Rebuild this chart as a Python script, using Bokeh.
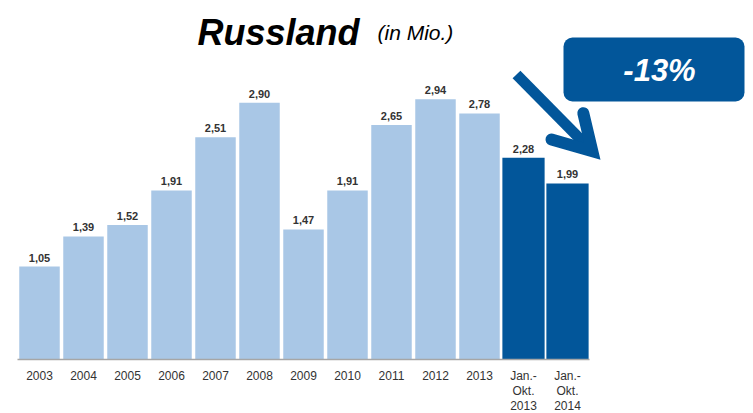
from bokeh.plotting import figure
from bokeh.models import (Range1d, FixedTicker, ColumnDataSource, LabelSet, Label,
                          BoxAnnotation)
from bokeh.core.properties import value
from bokeh.embed import file_html
from bokeh.resources import INLINE

# ---- data ----
categories = ["2003", "2004", "2005", "2006", "2007", "2008", "2009", "2010",
              "2011", "2012", "2013", "Jan.-\nOkt.\n2013", "Jan.-\nOkt.\n2014"]
values = [1.05, 1.39, 1.52, 1.91, 2.51, 2.90, 1.47, 1.91, 2.65, 2.94, 2.78, 2.28, 1.99]
partial_year = [False] * 11 + [True, True]
title_main = "Russland"
title_unit = "(in Mio.)"
change_text = "-13%"

LIGHT = "#a9c7e6"
DARK = "#02569a"
TEXT = "#333333"
FONT = "Liberation Sans"

# ---- scales (pixels per unit) ----
PX_X = 44.0        # pixels per category
PX_Y = 88.5        # pixels per million
FRAME_W, FRAME_H = 728, 351
LEFT, TOP = 17, 8


# helpers to place decorations given reference pixel positions
def px2x(px):
    return -0.5 + (px - LEFT) / PX_X


def px2y(py):
    return (TOP + FRAME_H - py) / PX_Y


idx = list(range(len(categories)))
src = ColumnDataSource(dict(
    x=idx,
    top=values,
    color=[DARK if p else LIGHT for p in partial_year],
    width=[0.96 if p else 0.92 for p in partial_year],
    label=[f"{v:.2f}".replace(".", ",") for v in values],
))

p = figure(frame_width=FRAME_W, frame_height=FRAME_H,
           x_range=Range1d(-0.5, -0.5 + FRAME_W / PX_X),
           y_range=Range1d(0, FRAME_H / PX_Y),
           y_axis_location=None, output_backend="svg", toolbar_location=None,
           min_border_left=LEFT, min_border_right=0, min_border_top=TOP,
           min_border_bottom=0, outline_line_color=None,
           background_fill_color="white", border_fill_color="white")
p.xgrid.visible = False
p.ygrid.visible = False

p.vbar(x="x", top="top", width="width", bottom=0, fill_color="color",
       line_color=None, source=src)

labels = LabelSet(x="x", y="top", text="label", source=src, y_offset=5,
                  text_align="center", text_baseline="alphabetic",
                  text_font=value(FONT), text_font_style="bold",
                  text_font_size="11px", text_color=TEXT)
p.add_layout(labels)

ax = p.xaxis[0]
ax.ticker = FixedTicker(ticks=idx)
ax.major_label_overrides = {i: c for i, c in zip(idx, categories)}
ax.bounds = (-0.5, len(categories) - 0.5)
ax.axis_line_color = "#a6a6a6"
ax.axis_line_width = 1.5
ax.major_tick_line_color = None
ax.minor_tick_line_color = None
ax.major_tick_out = 0
ax.major_tick_in = 0
ax.major_label_standoff = 9
ax.major_label_text_font = FONT
ax.major_label_text_font_size = "12px"
ax.major_label_text_color = TEXT
ax.major_label_text_line_height = 1.1

# ---- title ----
p.add_layout(Label(x=px2x(197), y=px2y(32), text=title_main, text_font=FONT,
                   text_font_size="36px", text_font_style="bold italic",
                   text_color="black", text_align="left", text_baseline="alphabetic"))
p.add_layout(Label(x=px2x(377), y=px2y(32), text=title_unit, text_font=FONT,
                   text_font_size="21px", text_font_style="italic",
                   text_color="black", text_align="left", text_baseline="alphabetic"))

# ---- change callout ----
p.add_layout(BoxAnnotation(left=px2x(563), right=px2x(744), top=px2y(37),
                           bottom=px2y(101), fill_color=DARK, fill_alpha=1,
                           line_color=None, border_radius=9))
p.add_layout(Label(x=px2x(659), y=px2y(70), text=change_text, text_font=FONT,
                   text_font_size="31px", text_font_style="bold italic",
                   text_color="white", text_align="center", text_baseline="middle"))

# ---- arrow ----
p.line(x=[px2x(516), px2x(589)], y=[px2y(74), px2y(148)], line_color=DARK,
       line_width=11, line_cap="butt")
p.line(x=[px2x(551), px2x(591.8), px2x(582.8)],
       y=[px2y(139), px2y(150.7), px2y(112.7)],
       line_color=DARK, line_width=12, line_join="miter", line_cap="round")

open("out.html", "w").write(file_html(p, INLINE))
